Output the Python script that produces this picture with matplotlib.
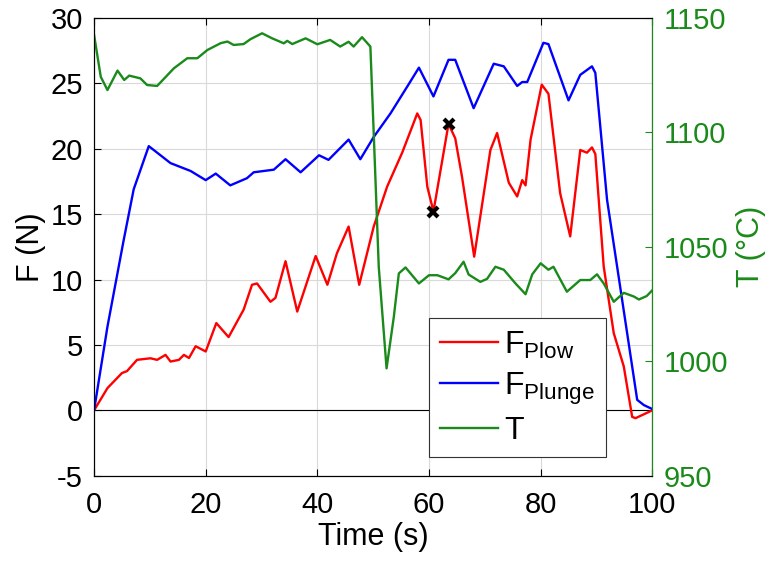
import matplotlib
matplotlib.use("Agg")
import matplotlib.pyplot as plt

plt.rcParams['font.family'] = ['Liberation Sans', 'DejaVu Sans']
plt.rcParams['mathtext.fontset'] = 'custom'
plt.rcParams['mathtext.rm'] = 'Liberation Sans'
plt.rcParams['axes.unicode_minus'] = False

# F plow (N)
t_plow = [0, 2.4, 5.0, 5.9, 7.7, 10.1, 11.3, 12.8, 13.7, 15.2, 16.1, 17.0, 18.2, 20.0,
          21.9, 24.1, 26.8, 28.3, 29.2, 31.6, 32.5, 34.3, 36.4, 39.7, 41.8, 43.5, 45.6,
          47.5, 50.1, 52.5, 55.2, 57.9, 58.5, 59.7, 60.8, 63.5, 64.7, 65.9, 68.1, 71.0,
          72.2, 74.3, 75.8, 76.7, 77.3, 78.2, 80.2, 81.4, 83.5, 85.3, 87.1, 88.3, 89.2,
          89.8, 91.3, 93.1, 94.9, 96.4, 97.0, 98.0, 99.0, 100]
f_plow = [0, 1.7, 2.85, 3.0, 3.86, 3.98, 3.86, 4.24, 3.73, 3.86, 4.24, 4.0, 4.9, 4.5,
          6.67, 5.6, 7.7, 9.6, 9.7, 8.3, 8.6, 11.4, 7.55, 11.8, 9.6, 12.0, 14.05,
          9.6, 14.05, 17.1, 19.7, 22.7, 22.2, 17.1, 15.2, 21.9, 20.8, 17.9, 11.75, 19.9,
          21.2, 17.4, 16.35, 17.6, 17.2, 20.7, 24.9, 24.2, 16.6, 13.3, 19.9, 19.7, 20.1,
          19.6, 11.0, 5.9, 3.35, -0.5, -0.6, -0.4, -0.2, 0]

# F plunge (N)
t_plunge = [0, 2.4, 5.3, 7.1, 9.8, 13.7, 17.3, 20.0, 21.8, 24.4, 27.4, 28.6, 32.2, 34.3,
            37.0, 40.3, 42.0, 45.6, 47.7, 50.1, 53.1, 56.1, 58.2, 60.8, 63.5, 64.7, 68.0,
            71.6, 73.4, 75.8, 76.7, 77.6, 80.5, 81.4, 85.0, 87.1, 89.2, 89.8, 91.9, 95.5,
            97.3, 98.5, 100]
f_plunge = [0, 6.4, 13.0, 16.9, 20.2, 18.9, 18.3, 17.6, 18.1, 17.2, 17.75, 18.2, 18.4, 19.2,
            18.2, 19.5, 19.15, 20.7, 19.2, 20.9, 22.7, 24.75, 26.2, 24.0, 26.8, 26.8, 23.1,
            26.5, 26.3, 24.8, 25.1, 25.1, 28.1, 28.0, 23.7, 25.65, 26.3, 25.8, 16.1, 5.9,
            0.8, 0.4, 0.1]

# T (deg C)
t_temp = [0, 1.2, 2.4, 4.2, 5.4, 6.3, 8.3, 9.5, 11.3, 14.3, 16.7, 18.5, 20.3, 22.7, 23.9,
          25.0, 26.8, 28.0, 30.1, 31.9, 34.0, 34.6, 35.5, 37.9, 40.0, 42.3, 44.1, 45.6,
          46.5, 48.0, 49.5, 50.1, 51.0, 52.4, 53.7, 54.6, 55.8, 58.2, 60.0, 61.5, 63.5,
          64.7, 66.2, 67.1, 69.2, 70.4, 71.9, 73.4, 75.5, 77.3, 78.5, 80.0, 81.4, 82.3,
          84.7, 87.1, 88.9, 90.1, 91.3, 93.1, 94.9, 96.7, 97.6, 99.0, 100]
temp = [1142.6, 1124.3, 1118.5, 1127.0, 1122.9, 1124.8, 1123.6, 1120.7, 1120.3, 1128.0,
        1132.4, 1132.4, 1136.0, 1139.0, 1139.7, 1138.2, 1138.6, 1140.7, 1143.3, 1141.1,
        1138.9, 1140.0, 1138.6, 1141.1, 1138.5, 1140.4, 1137.5, 1139.6, 1137.5, 1141.6,
        1137.5, 1099.6, 1041.3, 996.9, 1019.4, 1038.4, 1041.0, 1034.0, 1037.6, 1037.6,
        1035.8, 1038.5, 1043.5, 1037.9, 1034.7, 1036.0, 1041.3, 1040.0, 1034.0, 1029.3,
        1038.0, 1042.8, 1040.0, 1041.3, 1030.4, 1035.5, 1035.5, 1038.0, 1034.0, 1026.0,
        1029.9, 1028.3, 1027.0, 1028.5, 1031.0]

# marked points
t_mark = [60.8, 63.6]
f_mark = [15.2, 21.9]

fig = plt.figure(figsize=(7.71, 5.61), dpi=100)
ax = fig.add_axes([0.122, 0.152, 0.724, 0.816])
ax2 = ax.twinx()

green = '#1a8a1a'

ax.axhline(0, color='black', linewidth=0.8, zorder=1)
l1, = ax.plot(t_plow, f_plow, color='red', linewidth=1.7, label=r'F$_{\mathrm{Plow}}$', zorder=3)
l2, = ax.plot(t_plunge, f_plunge, color='blue', linewidth=1.7, label=r'F$_{\mathrm{Plunge}}$', zorder=3)
ax.plot(t_mark, f_mark, 'x', color='black', markersize=7, markeredgewidth=3, zorder=5)
l3, = ax2.plot(t_temp, temp, color=green, linewidth=1.7, label='T')

ax.set_xlim(0, 100)
ax.set_ylim(-5, 30)
ax.set_xticks(range(0, 101, 20))
ax.set_yticks(range(-5, 31, 5))
ax2.set_ylim(950, 1150)
ax2.set_yticks(range(950, 1151, 50))

ax.grid(True, color='#d9d9d9', linewidth=0.8)
ax.set_axisbelow(True)

ax.tick_params(axis='y', direction='in', labelsize=21, length=5, pad=8)
ax.tick_params(axis='x', direction='in', labelsize=21, length=5, pad=11, top=True)
ax2.tick_params(direction='in', labelsize=21, length=5, colors=green, pad=8)
ax2.spines['right'].set_color(green)

ax.set_xlabel('Time (s)', fontsize=22, labelpad=2)
ax.set_ylabel('F (N)', fontsize=22, labelpad=3)
ax2.set_ylabel('T (°C)', fontsize=22, color=green, labelpad=6)

leg = ax2.legend([l1, l2, l3], [l1.get_label(), l2.get_label(), 'T'],
                 loc='lower left', bbox_to_anchor=(0.6, 0.04), fontsize=23,
                 fancybox=False, edgecolor='#333333', framealpha=1,
                 handlelength=1.8, handletextpad=0.2, borderpad=0.35, labelspacing=0.3,
                 borderaxespad=0)
leg.get_frame().set_linewidth(0.8)

fig.savefig('out.png', dpi=100)
